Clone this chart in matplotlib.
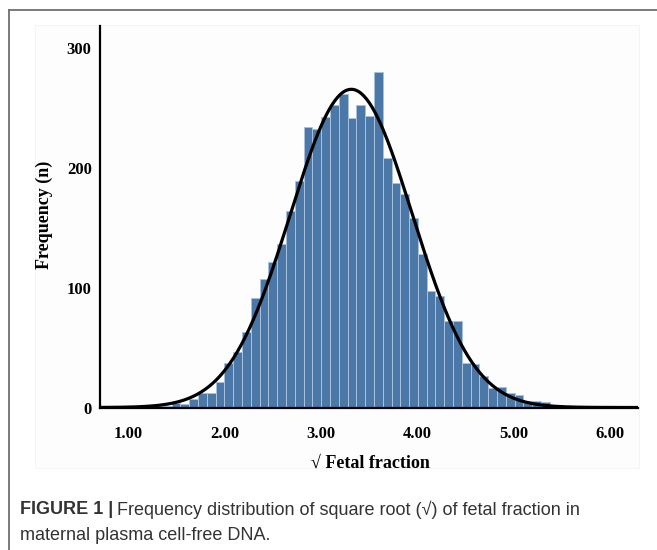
import matplotlib
matplotlib.use("Agg")
import matplotlib.pyplot as plt
from matplotlib.lines import Line2D
from matplotlib.patches import Rectangle
import numpy as np

# histogram of sqrt(fetal fraction)
bin_start = 1.271
bin_width = 0.0912
counts = [1, 1.5, 4, 3, 6.7, 12, 12, 21, 37, 46,
          63, 91, 107, 121, 136, 164, 189, 234, 232, 242,
          252, 261, 241, 252, 243, 280, 208, 187, 178, 158,
          128, 97.5, 93, 72.5, 72.5, 37, 36, 26, 16.5, 17,
          11.7, 10.8, 5.3, 5.8, 4.4]

xticks = [1, 2, 3, 4, 5, 6]
xtick_labels = ["1.00", "2.00", "3.00", "4.00", "5.00", "6.00"]
yticks = [0, 100, 200, 300]

counts = np.array(counts)
lefts = bin_start + bin_width * np.arange(len(counts))
centers = lefts + bin_width / 2

# normal curve fitted to the binned data
n_total = counts.sum()
mu = (counts * centers).sum() / n_total
sd = np.sqrt((counts * (centers - mu) ** 2).sum() / n_total)

serif = ["Liberation Serif", "DejaVu Serif"]
sans = ["Liberation Sans", "DejaVu Sans"]

fig = plt.figure(figsize=(6.57, 5.5), dpi=100)

# faint panel behind the chart image
fig.add_artist(Rectangle((35 / 657, 1 - 468 / 550), 604 / 657, 443 / 550,
                         transform=fig.transFigure, facecolor="#fdfdfd",
                         edgecolor="#f3f3f3", lw=0.6, zorder=0))
# open frame (top + left)
fig.add_artist(Line2D([9 / 657, 1], [1 - 10 / 550, 1 - 10 / 550],
                      transform=fig.transFigure, color="#707070", lw=1.3))
fig.add_artist(Line2D([9 / 657, 9 / 657], [0, 1 - 10 / 550],
                      transform=fig.transFigure, color="#707070", lw=1.3))

ax = fig.add_axes([100 / 657, 1 - 407.5 / 550, 538 / 657, 381.5 / 550])
ax.set_facecolor("none")

ax.bar(lefts, counts, width=bin_width, align="edge", color="#4c78a8",
       edgecolor="#a8c2de", linewidth=0.7, zorder=2)

xs = np.linspace(0.71, 6.29, 400)
ys = n_total * bin_width * np.exp(-0.5 * ((xs - mu) / sd) ** 2) / (sd * np.sqrt(2 * np.pi))
ax.plot(xs, ys, color="black", lw=2.3, zorder=3)

ax.set_xlim(0.71, 6.29)
ax.set_ylim(0, 318)
ax.set_xticks(xticks)
ax.set_xticklabels(xtick_labels)
ax.set_yticks(yticks)
for s in ["top", "right"]:
    ax.spines[s].set_visible(False)
for s in ["left", "bottom"]:
    ax.spines[s].set_linewidth(1.6)
    ax.spines[s].set_zorder(4)
ax.tick_params(axis="both", length=0)
ax.tick_params(axis="x", pad=13)
ax.tick_params(axis="y", pad=6)
for lab in ax.get_xticklabels() + ax.get_yticklabels():
    lab.set_fontfamily(serif)
    lab.set_fontweight("bold")
    lab.set_fontsize(12)

ax.set_ylabel("Frequency (n)", family=serif, fontweight="bold", fontsize=13)
ax.yaxis.set_label_coords(-0.087, 0.505)
ax.set_xlabel("\u221a Fetal fraction", family=serif, fontweight="bold", fontsize=13)
ax.xaxis.set_label_coords(0.502, -0.125)

# caption
cap_size = 13
t1 = fig.text(20 / 657, 1 - 510 / 550, "FIGURE 1 |", family=sans, fontweight="bold",
              fontsize=cap_size, color="#333333", va="center")
fig.canvas.draw()
bb = t1.get_window_extent()
x2 = (bb.x1 + 4) / fig.bbox.width
fig.text(x2, 1 - 510 / 550, "Frequency distribution of square root (\u221a) of fetal fraction in",
         family=sans, fontsize=cap_size, color="#333333", va="center")
fig.text(20 / 657, 1 - 535 / 550, "maternal plasma cell-free DNA.",
         family=sans, fontsize=cap_size, color="#333333", va="center")

fig.savefig("out.png", dpi=100)
